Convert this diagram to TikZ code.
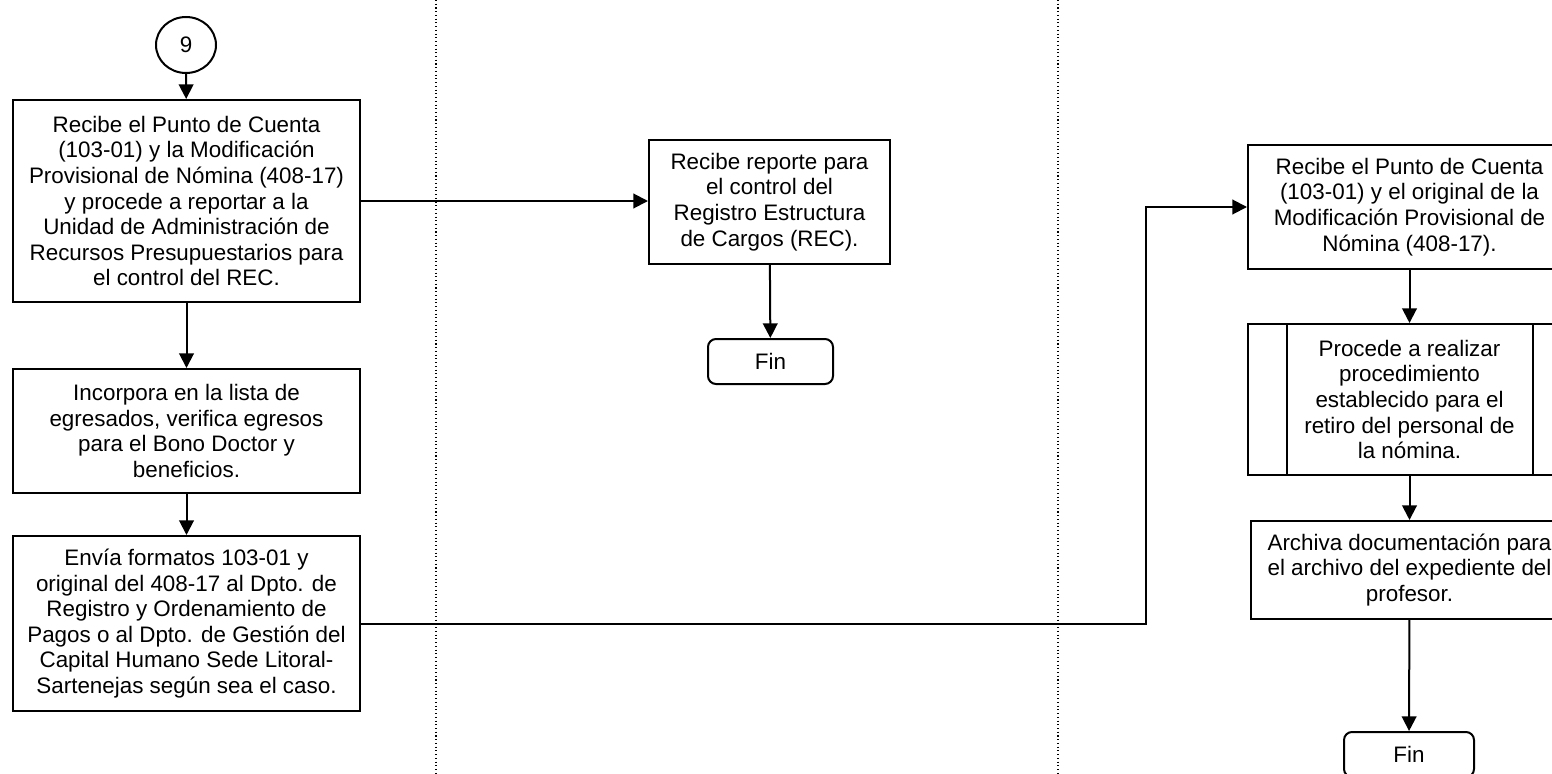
\documentclass[tikz,border=0pt]{standalone}
\usepackage{fontspec}
\setmainfont{Liberation Sans}
\usetikzlibrary{arrows.meta,shapes.geometric,calc}

\begin{document}
\begin{tikzpicture}[x=0.75pt,y=-0.75pt,
  every node/.style={font=\fontsize{16.8}{19.2}\selectfont, align=center, inner sep=0pt},
  box/.style={draw, line width=1.5pt, rectangle},
  term/.style={draw, line width=1.5pt, rectangle, rounded corners=6pt},
  link/.style={line width=1.5pt, -{Triangle[length=11pt,width=11pt]}},
  wire/.style={line width=1.5pt},
  lane/.style={line width=0.8pt, dotted}
]
\useasboundingbox (0,0) rectangle (1552,774);
\clip (0,0) rectangle (1552,774);

% swimlane separators
\draw[lane] (436,0) -- (436,774);
\draw[lane] (1058,0) -- (1058,774);

% left lane
\node[draw, line width=1.5pt, ellipse, minimum width=45pt, minimum height=42pt] (c9) at (186,45) {9};
\node[box, minimum width=260.25pt, minimum height=151.5pt] (b1) at (186.5,201)
  {Recibe el Punto de Cuenta\\(103-01) y la Modificación\\Provisional de Nómina (408-17)\\y procede a reportar a la\\Unidad de Administración de\\Recursos Presupuestarios para\\el control del REC.};
\node[box, minimum width=260.25pt, minimum height=93pt] (b2) at (186.5,431)
  {Incorpora en la lista de\\egresados, verifica egresos\\para el Bono Doctor y\\beneficios.};
\node[box, minimum width=260.25pt, minimum height=131.25pt] (b3) at (186.5,623.5)
  {Envía formatos 103-01 y\\original del 408-17 al Dpto. de\\Registro y Ordenamiento de\\Pagos o al Dpto. de Gestión del\\Capital Humano Sede Litoral-\\Sartenejas según sea el caso.};

% middle lane
\node[box, minimum width=180.75pt, minimum height=93pt] (m1) at (769.5,202)
  {Recibe reporte para\\el control del\\Registro Estructura\\de Cargos (REC).};
\node[term, minimum width=93.75pt, minimum height=33.75pt] (mfin) at (770.5,361.5) {Fin};

% right lane
\node[box, minimum width=242.25pt, minimum height=93pt] (r1) at (1409.5,207)
  {Recibe el Punto de Cuenta\\(103-01) y el original de la\\Modificación Provisional de\\Nómina (408-17).};
\node[box, minimum width=243pt, minimum height=113.25pt] (r2) at (1409.5,399.5)
  {Procede a realizar\\procedimiento\\establecido para el\\retiro del personal de\\la nómina.};
\draw[wire] ([xshift=30pt]r2.north west) -- ([xshift=30pt]r2.south west);
\draw[wire] ([xshift=-30pt]r2.north east) -- ([xshift=-30pt]r2.south east);
\node[box, minimum width=237.75pt, minimum height=73.5pt] (r3) at (1409.5,570)
  {Archiva documentación para\\el archivo del expediente del\\profesor.};
\node[term, minimum width=97.5pt, minimum height=33.75pt] (rfin) at (1409,754.5) {Fin};

% connectors
\draw[link] (c9) -- (b1);
\draw[link] (b1) -- (b2);
\draw[link] (b2) -- (b3);
\draw[link] (b1.east) -- (b1.east -| m1.west);
\draw[link] (m1) -- (mfin);
\coordinate (turn) at (1146,623.5);
\draw[link] (b3.east) -- (turn) |- (r1.west);
\draw[link] (r1) -- (r2);
\draw[link] (r2) -- (r3);
\draw[link] (r3) -- (rfin);
\end{tikzpicture}
\end{document}
